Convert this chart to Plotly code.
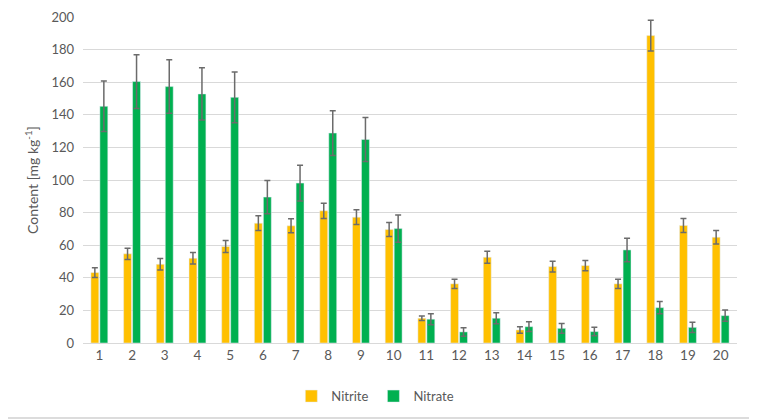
import plotly.graph_objects as go

categories = [str(i) for i in range(1, 21)]
nitrite = [43.2, 54.7, 48.3, 52.0, 59.2, 73.5, 71.9, 81.1, 77.2, 69.6,
           15.2, 36.3, 52.6, 8.0, 46.9, 47.5, 36.3, 188.6, 72.1, 64.9]
nitrite_err = [3.0, 3.5, 3.5, 3.5, 3.7, 4.5, 4.3, 4.7, 4.5, 4.3,
               1.4, 2.8, 3.7, 2.0, 3.3, 3.1, 2.8, 9.4, 4.3, 4.1]
nitrate = [145.2, 160.4, 157.3, 152.8, 150.7, 89.5, 98.1, 128.8, 124.9, 70.2,
           14.6, 6.8, 15.2, 10.0, 9.0, 7.0, 57.1, 21.7, 9.6, 16.8]
nitrate_err = [15.5, 16.5, 16.4, 16.0, 15.6, 10.2, 11.0, 13.7, 13.5, 8.4,
               3.4, 2.6, 3.4, 3.0, 3.0, 2.6, 7.2, 3.7, 3.1, 3.5]
y_ticks = [0, 20, 40, 60, 80, 100, 120, 140, 160, 180, 200]

font_family = "Lato, 'Open Sans', sans-serif"
err_color = "#6b6b6b"

W, H = 749, 412
L, R, T, B = 75, 20, 9, 77
PW, PH = W - L - R, H - T - B

fig = go.Figure()
fig.add_trace(go.Bar(
    x=categories, y=nitrite, name="Nitrite", marker_color="#FFC000",
    error_y=dict(type="data", array=nitrite_err, visible=True,
                 color=err_color, thickness=1.5, width=3),
))
fig.add_trace(go.Bar(
    x=categories, y=nitrate, name="Nitrate", marker_color="#00B050",
    error_y=dict(type="data", array=nitrate_err, visible=True,
                 color=err_color, thickness=1.5, width=3),
))

fig.update_layout(
    width=W, height=H,
    margin=dict(l=L, r=R, t=T, b=B, autoexpand=False),
    paper_bgcolor="white", plot_bgcolor="white",
    barmode="group", bargap=0.45, bargroupgap=0.12,
    font=dict(family=font_family, size=13, color="#595959"),
    showlegend=True,
    legend=dict(orientation="h", x=0.447, xanchor="center",
                y=-0.163, yanchor="middle", itemwidth=30,
                font=dict(size=13, color="#595959")),
    xaxis=dict(showgrid=False, showline=True, linecolor="#d9d9d9", linewidth=1,
               ticks="", tickfont=dict(size=13.5, color="#595959"),
               automargin=False, fixedrange=True),
    yaxis=dict(range=[0, 200], tickvals=y_ticks, showgrid=True, gridcolor="#d9d9d9",
               gridwidth=1, zeroline=False, showline=False, ticks="",
               tickfont=dict(size=13, color="#595959"), ticklabelstandoff=8,
               ticklabeloverflow="allow",
               automargin=False,
               title=dict(text="Content [mg kg<sup>-1</sup>]", standoff=9,
                          font=dict(size=14, color="#595959"))),
    shapes=[
        dict(type="line", xref="paper", yref="paper",
             x0=(W - L - 2) / PW, x1=(W - L - 2) / PW,
             y0=-(B - 2) / PH, y1=(PH + T) / PH,
             line=dict(color="#dcdcdc", width=2)),
        dict(type="line", xref="paper", yref="paper",
             x0=-L / PW, x1=(W - L - 2) / PW,
             y0=-(B - 2) / PH, y1=-(B - 2) / PH,
             line=dict(color="#dcdcdc", width=2)),
    ],
)

fig.write_html("out.html")
